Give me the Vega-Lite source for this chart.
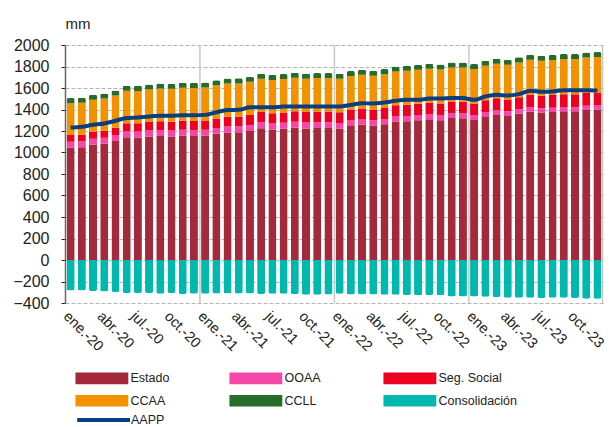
{
  "$schema": "https://vega.github.io/schema/vega-lite/v6.json",
  "width": 538,
  "height": 258,
  "autosize": {"type": "none"},
  "padding": {"left": 65, "top": 45, "right": 10, "bottom": 124},
  "config": {
    "view": {"stroke": null},
    "font": "Liberation Sans",
    "axis": {"labelColor": "#222", "titleColor": "#222"}
  },
  "data": {"values": [
    {"m": "ene.-20", "a_Estado": 1045, "b_OOAA": 56, "c_SS": 62, "d_CCAA": 296, "e_CCLL": 47, "f_Consol": -283, "AAPP": 1232},
    {"m": "feb.-20", "a_Estado": 1048, "b_OOAA": 56, "c_SS": 62, "d_CCAA": 297, "e_CCLL": 47, "f_Consol": -283, "AAPP": 1240},
    {"m": "mar.-20", "a_Estado": 1072, "b_OOAA": 56, "c_SS": 64, "d_CCAA": 298, "e_CCLL": 47, "f_Consol": -289, "AAPP": 1258},
    {"m": "abr.-20", "a_Estado": 1082, "b_OOAA": 56, "c_SS": 65, "d_CCAA": 299, "e_CCLL": 47, "f_Consol": -292, "AAPP": 1270},
    {"m": "may.-20", "a_Estado": 1106, "b_OOAA": 56, "c_SS": 68, "d_CCAA": 300, "e_CCLL": 47, "f_Consol": -298, "AAPP": 1295},
    {"m": "jun.-20", "a_Estado": 1142, "b_OOAA": 56, "c_SS": 75, "d_CCAA": 301, "e_CCLL": 47, "f_Consol": -308, "AAPP": 1320},
    {"m": "jul.-20", "a_Estado": 1140, "b_OOAA": 56, "c_SS": 75, "d_CCAA": 302, "e_CCLL": 47, "f_Consol": -308, "AAPP": 1325},
    {"m": "ago.-20", "a_Estado": 1149, "b_OOAA": 56, "c_SS": 78, "d_CCAA": 303, "e_CCLL": 47, "f_Consol": -308, "AAPP": 1335},
    {"m": "sep.-20", "a_Estado": 1153, "b_OOAA": 56, "c_SS": 82, "d_CCAA": 304, "e_CCLL": 47, "f_Consol": -314, "AAPP": 1341},
    {"m": "oct.-20", "a_Estado": 1149, "b_OOAA": 56, "c_SS": 82, "d_CCAA": 305, "e_CCLL": 47, "f_Consol": -308, "AAPP": 1343},
    {"m": "nov.-20", "a_Estado": 1156, "b_OOAA": 56, "c_SS": 84, "d_CCAA": 306, "e_CCLL": 47, "f_Consol": -317, "AAPP": 1347},
    {"m": "dic.-20", "a_Estado": 1153, "b_OOAA": 56, "c_SS": 85, "d_CCAA": 307, "e_CCLL": 47, "f_Consol": -314, "AAPP": 1347},
    {"m": "ene.-21", "a_Estado": 1156, "b_OOAA": 55, "c_SS": 86, "d_CCAA": 308, "e_CCLL": 47, "f_Consol": -314, "AAPP": 1350},
    {"m": "feb.-21", "a_Estado": 1174, "b_OOAA": 55, "c_SS": 88, "d_CCAA": 308, "e_CCLL": 47, "f_Consol": -311, "AAPP": 1375},
    {"m": "mar.-21", "a_Estado": 1187, "b_OOAA": 55, "c_SS": 90, "d_CCAA": 309, "e_CCLL": 47, "f_Consol": -311, "AAPP": 1395},
    {"m": "abr.-21", "a_Estado": 1189, "b_OOAA": 55, "c_SS": 90, "d_CCAA": 309, "e_CCLL": 47, "f_Consol": -311, "AAPP": 1397},
    {"m": "may.-21", "a_Estado": 1201, "b_OOAA": 55, "c_SS": 92, "d_CCAA": 310, "e_CCLL": 47, "f_Consol": -311, "AAPP": 1420},
    {"m": "jun.-21", "a_Estado": 1226, "b_OOAA": 55, "c_SS": 95, "d_CCAA": 310, "e_CCLL": 47, "f_Consol": -317, "AAPP": 1422},
    {"m": "jul.-21", "a_Estado": 1215, "b_OOAA": 55, "c_SS": 95, "d_CCAA": 310, "e_CCLL": 47, "f_Consol": -314, "AAPP": 1420},
    {"m": "ago.-21", "a_Estado": 1221, "b_OOAA": 55, "c_SS": 96, "d_CCAA": 311, "e_CCLL": 47, "f_Consol": -314, "AAPP": 1427},
    {"m": "sep.-21", "a_Estado": 1231, "b_OOAA": 55, "c_SS": 98, "d_CCAA": 311, "e_CCLL": 47, "f_Consol": -317, "AAPP": 1427},
    {"m": "oct.-21", "a_Estado": 1223, "b_OOAA": 55, "c_SS": 98, "d_CCAA": 311, "e_CCLL": 47, "f_Consol": -323, "AAPP": 1427},
    {"m": "nov.-21", "a_Estado": 1227, "b_OOAA": 55, "c_SS": 99, "d_CCAA": 311, "e_CCLL": 47, "f_Consol": -323, "AAPP": 1427},
    {"m": "dic.-21", "a_Estado": 1227, "b_OOAA": 55, "c_SS": 99, "d_CCAA": 311, "e_CCLL": 47, "f_Consol": -320, "AAPP": 1427},
    {"m": "ene.-22", "a_Estado": 1222, "b_OOAA": 52, "c_SS": 100, "d_CCAA": 312, "e_CCLL": 47, "f_Consol": -314, "AAPP": 1427},
    {"m": "feb.-22", "a_Estado": 1246, "b_OOAA": 52, "c_SS": 101, "d_CCAA": 312, "e_CCLL": 47, "f_Consol": -320, "AAPP": 1443},
    {"m": "mar.-22", "a_Estado": 1257, "b_OOAA": 51, "c_SS": 102, "d_CCAA": 313, "e_CCLL": 47, "f_Consol": -320, "AAPP": 1459},
    {"m": "abr.-22", "a_Estado": 1248, "b_OOAA": 51, "c_SS": 102, "d_CCAA": 313, "e_CCLL": 47, "f_Consol": -320, "AAPP": 1455},
    {"m": "may.-22", "a_Estado": 1262, "b_OOAA": 50, "c_SS": 103, "d_CCAA": 314, "e_CCLL": 47, "f_Consol": -323, "AAPP": 1465},
    {"m": "jun.-22", "a_Estado": 1285, "b_OOAA": 50, "c_SS": 104, "d_CCAA": 315, "e_CCLL": 47, "f_Consol": -323, "AAPP": 1481},
    {"m": "jul.-22", "a_Estado": 1291, "b_OOAA": 49, "c_SS": 105, "d_CCAA": 315, "e_CCLL": 47, "f_Consol": -326, "AAPP": 1490},
    {"m": "ago.-22", "a_Estado": 1300, "b_OOAA": 49, "c_SS": 105, "d_CCAA": 316, "e_CCLL": 47, "f_Consol": -329, "AAPP": 1490},
    {"m": "sep.-22", "a_Estado": 1309, "b_OOAA": 48, "c_SS": 106, "d_CCAA": 316, "e_CCLL": 47, "f_Consol": -326, "AAPP": 1502},
    {"m": "oct.-22", "a_Estado": 1301, "b_OOAA": 48, "c_SS": 106, "d_CCAA": 317, "e_CCLL": 47, "f_Consol": -329, "AAPP": 1502},
    {"m": "nov.-22", "a_Estado": 1320, "b_OOAA": 47, "c_SS": 107, "d_CCAA": 317, "e_CCLL": 47, "f_Consol": -339, "AAPP": 1506},
    {"m": "dic.-22", "a_Estado": 1319, "b_OOAA": 47, "c_SS": 107, "d_CCAA": 318, "e_CCLL": 47, "f_Consol": -339, "AAPP": 1506},
    {"m": "ene.-23", "a_Estado": 1303, "b_OOAA": 45, "c_SS": 108, "d_CCAA": 320, "e_CCLL": 47, "f_Consol": -339, "AAPP": 1490},
    {"m": "feb.-23", "a_Estado": 1331, "b_OOAA": 45, "c_SS": 110, "d_CCAA": 321, "e_CCLL": 47, "f_Consol": -342, "AAPP": 1521},
    {"m": "mar.-23", "a_Estado": 1349, "b_OOAA": 44, "c_SS": 111, "d_CCAA": 322, "e_CCLL": 47, "f_Consol": -345, "AAPP": 1537},
    {"m": "abr.-23", "a_Estado": 1340, "b_OOAA": 43, "c_SS": 111, "d_CCAA": 322, "e_CCLL": 47, "f_Consol": -351, "AAPP": 1530},
    {"m": "may.-23", "a_Estado": 1360, "b_OOAA": 42, "c_SS": 113, "d_CCAA": 323, "e_CCLL": 47, "f_Consol": -351, "AAPP": 1543},
    {"m": "jun.-23", "a_Estado": 1382, "b_OOAA": 42, "c_SS": 115, "d_CCAA": 324, "e_CCLL": 47, "f_Consol": -351, "AAPP": 1574},
    {"m": "jul.-23", "a_Estado": 1371, "b_OOAA": 41, "c_SS": 116, "d_CCAA": 325, "e_CCLL": 47, "f_Consol": -354, "AAPP": 1565},
    {"m": "ago.-23", "a_Estado": 1377, "b_OOAA": 40, "c_SS": 117, "d_CCAA": 326, "e_CCLL": 47, "f_Consol": -351, "AAPP": 1568},
    {"m": "sep.-23", "a_Estado": 1384, "b_OOAA": 40, "c_SS": 118, "d_CCAA": 327, "e_CCLL": 47, "f_Consol": -351, "AAPP": 1580},
    {"m": "oct.-23", "a_Estado": 1383, "b_OOAA": 39, "c_SS": 119, "d_CCAA": 328, "e_CCLL": 47, "f_Consol": -354, "AAPP": 1578},
    {"m": "nov.-23", "a_Estado": 1396, "b_OOAA": 39, "c_SS": 120, "d_CCAA": 329, "e_CCLL": 47, "f_Consol": -360, "AAPP": 1580},
    {"m": "dic.-23", "a_Estado": 1399, "b_OOAA": 38, "c_SS": 121, "d_CCAA": 330, "e_CCLL": 47, "f_Consol": -360, "AAPP": 1577}
  ]},
  "encoding": {
    "x": {
      "field": "m", "type": "ordinal",
      "scale": {
        "domain": ["ene.-20","feb.-20","mar.-20","abr.-20","may.-20","jun.-20","jul.-20","ago.-20","sep.-20","oct.-20","nov.-20","dic.-20",
                   "ene.-21","feb.-21","mar.-21","abr.-21","may.-21","jun.-21","jul.-21","ago.-21","sep.-21","oct.-21","nov.-21","dic.-21",
                   "ene.-22","feb.-22","mar.-22","abr.-22","may.-22","jun.-22","jul.-22","ago.-22","sep.-22","oct.-22","nov.-22","dic.-22",
                   "ene.-23","feb.-23","mar.-23","abr.-23","may.-23","jun.-23","jul.-23","ago.-23","sep.-23","oct.-23","nov.-23","dic.-23"],
        "paddingInner": 0.28, "paddingOuter": 0.14
      },
      "axis": {
        "title": null, "ticks": false, "domain": false, "grid": false,
        "labelAngle": 45, "labelFontSize": 14.5, "labelPadding": 6,
        "labelOverlap": false, "labelBound": false,
        "labelExpr": "indexof(['ene','abr','jul','oct'], slice(datum.value, 0, 3)) >= 0 ? datum.value : ''"
      }
    }
  },
  "layer": [
    {
      "transform": [{"filter": "indexof(['ene.-21','ene.-22','ene.-23'], datum.m) >= 0"}],
      "mark": {"type": "rule", "color": "#c8c8c8", "strokeWidth": 1.5},
      "encoding": {"x": {"field": "m", "type": "ordinal", "bandPosition": -0.14}}
    },
    {
      "transform": [{"filter": "datum.m == 'dic.-23'"}],
      "mark": {"type": "rule", "color": "#c8c8c8", "strokeWidth": 1.5},
      "encoding": {"x": {"field": "m", "type": "ordinal", "bandPosition": 1.14}}
    },
    {
      "transform": [{"fold": ["a_Estado", "b_OOAA", "c_SS", "d_CCAA", "e_CCLL", "f_Consol"], "as": ["serie", "valor"]}],
      "mark": {"type": "bar", "cornerRadius": 2},
      "encoding": {
        "y": {
          "field": "valor", "type": "quantitative", "stack": "zero",
          "scale": {"domain": [-400, 2000], "nice": false},
          "axis": {
            "values": [-400, -200, 0, 200, 400, 600, 800, 1000, 1200, 1400, 1600, 1800, 2000],
            "format": "d", "labelOverlap": false,
            "labelFontSize": 16, "labelPadding": 12, "tickSize": 4, "tickColor": "#222",
            "domainColor": "#666", "domainWidth": 1.5,
            "gridDash": [4, 2], "gridColor": "#b5b5b5",
            "title": "mm", "titleAngle": 0, "titleAlign": "left", "titleBaseline": "alphabetic",
            "titleX": 0, "titleY": -17, "titleFontSize": 15, "titleFontWeight": "normal"
          }
        },
        "order": {"field": "serie", "type": "ordinal", "sort": "ascending"},
        "color": {
          "field": "serie", "type": "nominal",
          "scale": {
            "domain": ["a_Estado", "b_OOAA", "c_SS", "d_CCAA", "e_CCLL", "f_Consol"],
            "range": ["#a3293b", "#f547a8", "#ee0020", "#f29200", "#276c28", "#00b8ae"]
          },
          "legend": {
            "orient": "none", "legendX": 10, "legendY": 327,
            "direction": "horizontal", "columns": 3, "title": null,
            "symbolType": "M-1,-1L8.1,-1L8.1,1L-1,1Z", "symbolSize": 135,
            "symbolStrokeWidth": 0, "gridAlign": "all", "columnPadding": 19, "rowPadding": 9.5,
            "labelFont": "Liberation Sans", "labelFontSize": 12.5, "labelColor": "#222", "labelOffset": 43,
            "labelExpr": "datum.label == 'c_SS' ? 'Seg. Social' : datum.label == 'f_Consol' ? 'Consolidación' : slice(datum.label, 2)"
          }
        }
      }
    },
    {
      "mark": {"type": "line", "strokeWidth": 4, "interpolate": "monotone"},
      "encoding": {
        "y": {
          "field": "AAPP", "type": "quantitative",
          "axis": {
            "values": [-400, -200, 0, 200, 400, 600, 800, 1000, 1200, 1400, 1600, 1800, 2000],
            "format": "d", "labelOverlap": false,
            "labelFontSize": 16, "labelPadding": 12, "tickSize": 4, "tickColor": "#222",
            "domainColor": "#666", "domainWidth": 1.5,
            "gridDash": [4, 2], "gridColor": "#b5b5b5",
            "title": "mm", "titleAngle": 0, "titleAlign": "left", "titleBaseline": "alphabetic",
            "titleX": 0, "titleY": -17, "titleFontSize": 15, "titleFontWeight": "normal"
          }
        },
        "stroke": {
          "datum": "AAPP",
          "scale": {"range": ["#0b3e7c"]},
          "legend": {
            "orient": "none", "legendX": 10, "legendY": 367, "title": null,
            "symbolType": "M-1,0L8.1,0", "symbolSize": 135, "symbolStrokeWidth": 4,
            "labelFont": "Liberation Sans", "labelFontSize": 12.5, "labelColor": "#222", "labelOffset": 40
          }
        }
      }
    },
    {
      "mark": {"type": "rule", "color": "#333", "strokeWidth": 1.5},
      "encoding": {
        "y": {
          "datum": 0,
          "axis": {
            "values": [-400, -200, 0, 200, 400, 600, 800, 1000, 1200, 1400, 1600, 1800, 2000],
            "format": "d", "labelOverlap": false,
            "labelFontSize": 16, "labelPadding": 12, "tickSize": 4, "tickColor": "#222",
            "domainColor": "#666", "domainWidth": 1.5,
            "gridDash": [4, 2], "gridColor": "#b5b5b5",
            "title": "mm", "titleAngle": 0, "titleAlign": "left", "titleBaseline": "alphabetic",
            "titleX": 0, "titleY": -17, "titleFontSize": 15, "titleFontWeight": "normal"
          }
        }
      }
    }
  ]
}
